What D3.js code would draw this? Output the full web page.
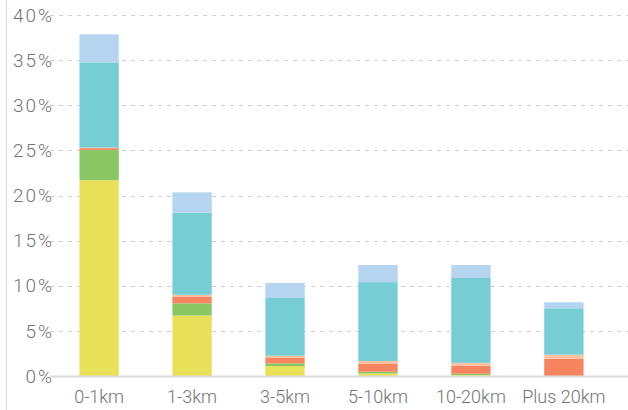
<!DOCTYPE html>
<html>
<head>
<meta charset="utf-8">
<script src="https://cdn.jsdelivr.net/npm/d3@7"></script>
<style>
  html, body { margin: 0; padding: 0; background: #fff; }
  svg { display: block; }
  text { font-family: "Roboto", "Lato", sans-serif; font-weight: 300; fill: #737373; }
</style>
</head>
<body>
<svg id="chart" width="628" height="410"></svg>
<script>
// Distance bands on the x axis
const categories = ["0-1km", "1-3km", "3-5km", "5-10km", "10-20km", "Plus 20km"];

// Stacked shares (%) per distance band, bottom to top
const seriesYellow    = [21.7, 6.7, 1.1, 0.28, 0.1, 0];
const seriesGreen     = [3.35, 1.35, 0.3, 0.2, 0.15, 0];
const seriesOrange    = [0.2, 0.75, 0.6, 0.85, 0.88, 1.92];
const seriesPeach     = [0.05, 0.2, 0.25, 0.33, 0.33, 0.44];
const seriesTeal      = [9.45, 9.1, 6.4, 8.74, 9.4, 5.14];
const seriesLightBlue = [3.1, 2.25, 1.65, 1.9, 1.44, 0.67];

const yTicks = [0, 5, 10, 15, 20, 25, 30, 35, 40];

const seriesList = [
  { key: "yellow",    values: seriesYellow,    color: "#e8e058" },
  { key: "green",     values: seriesGreen,     color: "#88c764" },
  { key: "orange",    values: seriesOrange,    color: "#f6845f" },
  { key: "peach",     values: seriesPeach,     color: "#f9c0a2" },
  { key: "teal",      values: seriesTeal,      color: "#76cdd4" },
  { key: "lightblue", values: seriesLightBlue, color: "#b4d4f0" }
];

const rows = categories.map((c, i) => {
  const r = { category: c };
  seriesList.forEach(s => { r[s.key] = s.values[i]; });
  return r;
});

const stack = d3.stack().keys(seriesList.map(s => s.key));
const stacked = stack(rows);

const svg = d3.select("#chart");
const W = 628, H = 410;

const x = d3.scaleBand()
  .domain(categories)
  .range([50, 613])
  .paddingInner(0.577)
  .paddingOuter(0.317);

const y = d3.scaleLinear()
  .domain([0, 40])
  .range([376, 15]);

// left frame line
svg.append("line")
  .attr("x1", 6.5).attr("x2", 6.5)
  .attr("y1", 0).attr("y2", H)
  .attr("stroke", "#dcdcdc").attr("stroke-width", 1);

// dashed gridlines
svg.append("g")
  .selectAll("line")
  .data(yTicks.filter(t => t > 0))
  .join("line")
  .attr("x1", 50).attr("x2", W)
  .attr("y1", d => Math.round(y(d)) + 0.5)
  .attr("y2", d => Math.round(y(d)) + 0.5)
  .attr("stroke", "#cfcfcf")
  .attr("stroke-dasharray", "4,5");

// y tick labels
svg.append("g")
  .selectAll("text")
  .data(yTicks)
  .join("text")
  .attr("x", 54)
  .attr("y", d => y(d))
  .attr("dy", "0.35em")
  .attr("text-anchor", "end")
  .attr("font-size", 19)
  .attr("letter-spacing", "2px")
  .text(d => d + "%");

// stacked bars
const colorOf = Object.fromEntries(seriesList.map(s => [s.key, s.color]));
svg.append("g")
  .selectAll("g")
  .data(stacked)
  .join("g")
  .attr("fill", d => colorOf[d.key])
  .selectAll("rect")
  .data(d => d)
  .join("rect")
  .attr("x", d => x(d.data.category))
  .attr("width", x.bandwidth())
  .attr("y", d => y(d[1]))
  .attr("height", d => Math.max(0, y(d[0]) - y(d[1])));

// bottom axis line
svg.append("line")
  .attr("x1", 50).attr("x2", W)
  .attr("y1", 376.5).attr("y2", 376.5)
  .attr("stroke", "#dcdcdc").attr("stroke-width", 2);

// x category labels
svg.append("g")
  .selectAll("text")
  .data(categories)
  .join("text")
  .attr("x", d => x(d) + x.bandwidth() / 2)
  .attr("y", 403)
  .attr("text-anchor", "middle")
  .attr("font-size", 18)
  .text(d => d);
</script>
</body>
</html>
